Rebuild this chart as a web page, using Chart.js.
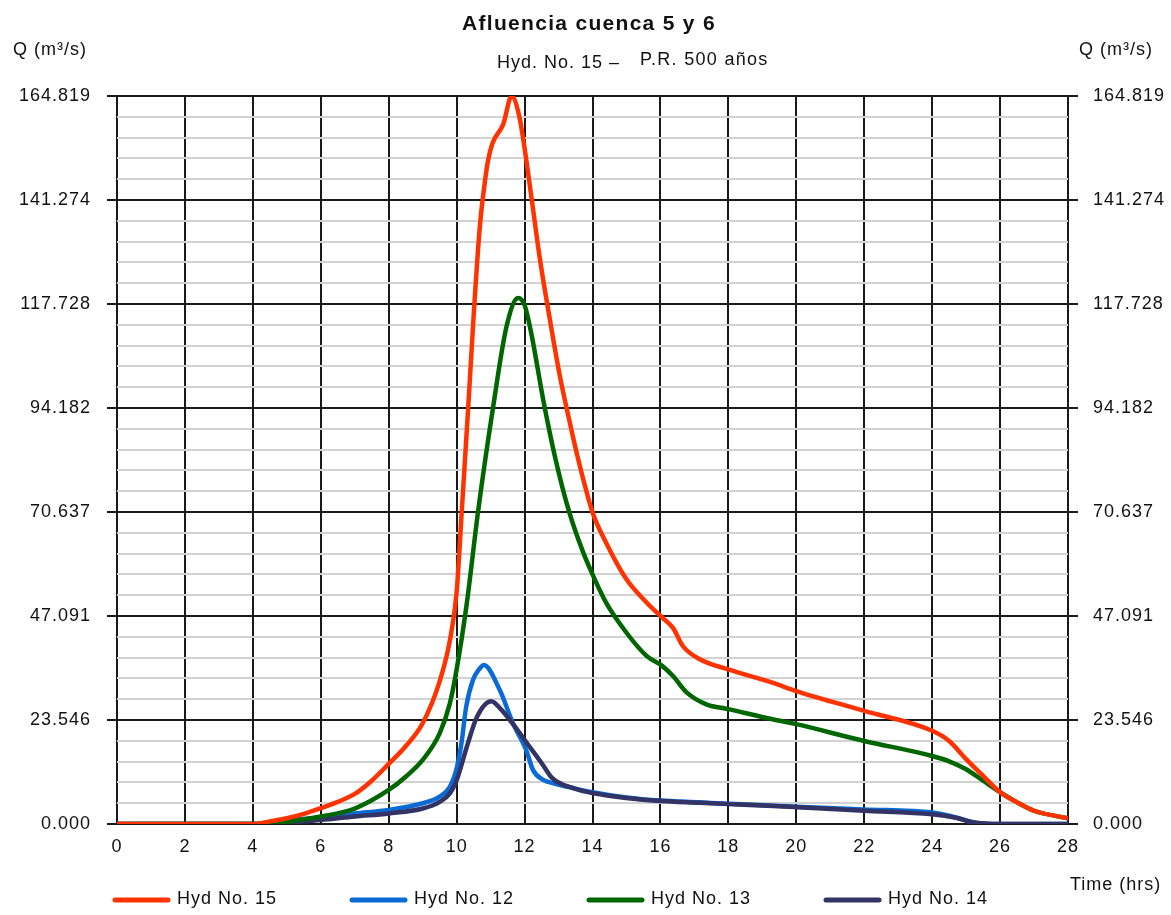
<!DOCTYPE html>
<html>
<head>
<meta charset="utf-8">
<title>Afluencia cuenca 5 y 6</title>
<script src="https://cdn.jsdelivr.net/npm/chart.js@4.4.1/dist/chart.umd.min.js"></script>
<style>
  html, body { margin: 0; padding: 0; background: #fff; }
  #wrap { width: 1171px; height: 915px; }
</style>
</head>
<body>
<div id="wrap"><canvas id="hydChart" width="1171" height="915"></canvas></div>
<script>
// Hidrogramas: tiempo (hrs) y caudal Q (m3/s)
const hyd15Time = [0, 4, 4.5, 5, 5.5, 6, 6.5, 7, 7.5, 8, 8.5, 9, 9.5, 9.8, 10, 10.15, 10.34, 10.5, 10.68, 10.8, 10.92, 11.05, 11.37, 11.62, 11.85, 12.0, 12.2, 12.45, 12.75, 13.05, 13.3, 13.55, 14, 14.4, 15, 15.6, 16, 16.37, 16.66, 17.16, 18, 19.3, 20, 22, 24, 24.5, 25, 25.5, 26, 26.5, 27, 28];
const hyd15Flow = [0, 0, 0.6, 1.3, 2.3, 3.6, 5.0, 6.8, 9.8, 13.6, 17.6, 22.8, 32.3, 41.5, 52.5, 70.7, 94.2, 115, 135, 143.5, 150, 154, 158.4, 164.8, 160, 153, 142, 128, 114, 101, 92, 83.5, 70.6, 63.7, 55.4, 50.1, 47.1, 44.4, 40.3, 37.3, 35.0, 32.0, 30.1, 25.6, 21.1, 18.8, 14.7, 10.9, 7.2, 4.9, 3.0, 1.3];

const hyd12Time = [0, 4, 5, 6, 7, 8, 9, 9.5, 9.8, 10, 10.14, 10.28, 10.48, 10.67, 10.8, 11.26, 11.66, 12.05, 12.25, 12.55, 12.85, 13.4, 14, 15, 16, 17.15, 18, 19.5, 20, 22, 24, 24.5, 25, 25.4, 26, 28];
const hyd12Flow = [0, 0, 0.8, 1.5, 2.4, 3.2, 4.7, 6.2, 8.4, 12.6, 18.2, 26.5, 32.6, 35.1, 36.0, 30.5, 22.8, 16.7, 12.2, 10.0, 9.2, 8.2, 7.2, 6.0, 5.3, 4.9, 4.6, 4.1, 3.9, 3.3, 2.6, 1.9, 0.8, 0.1, 0, 0];

const hyd13Time = [0, 4.5, 5, 6, 7, 8, 8.5, 9, 9.5, 9.8, 10, 10.3, 10.63, 11.07, 11.47, 11.81, 12.0, 12.2, 12.55, 12.9, 13.3, 13.7, 14, 14.4, 15, 15.6, 16.05, 16.37, 16.77, 17.35, 18, 19.3, 20, 22, 24, 24.5, 25, 25.5, 26, 26.5, 27, 28];
const hyd13Flow = [0, 0, 0.5, 1.7, 3.5, 7.7, 10.7, 14.5, 20.5, 27.3, 35, 50, 70.7, 94.2, 112.7, 119.1, 117.5, 111, 96, 83, 71, 62, 56.5, 50.1, 43.3, 38.0, 35.8, 33.5, 29.8, 27.1, 26.0, 23.7, 22.6, 18.8, 15.4, 14.2, 12.4, 9.8, 7.2, 4.9, 3.0, 1.3];

const hyd14Time = [0, 4.5, 5, 6, 7, 8, 9, 9.5, 9.8, 10, 10.3, 10.6, 11.02, 11.3, 11.7, 12.1, 12.5, 12.8, 13.1, 13.4, 14, 15, 16, 17.15, 18, 19.5, 22, 24, 24.7, 25.2, 26, 28];
const hyd14Flow = [0, 0, 0.3, 0.9, 1.7, 2.4, 3.5, 5.0, 6.9, 9.9, 17.5, 24.3, 27.8, 26.0, 22.2, 18.0, 13.8, 10.5, 9.0, 8.2, 7.0, 5.9, 5.2, 4.8, 4.5, 4.0, 3.0, 2.2, 1.4, 0.4, 0, 0];

const seriesNames = ['Hyd No. 15', 'Hyd No. 12', 'Hyd No. 13', 'Hyd No. 14'];
const seriesColors = ['#ff3300', '#0a6ad6', '#006600', '#333366'];

const xTickValues = [0, 2, 4, 6, 8, 10, 12, 14, 16, 18, 20, 22, 24, 26, 28];
const xTickLabels = ['0', '2', '4', '6', '8', '10', '12', '14', '16', '18', '20', '22', '24', '26', '28'];
const yMax = 164.819;
const yTickLabels = ['0.000', '23.546', '47.091', '70.637', '94.182', '117.728', '141.274', '164.819'];
const yMinorPerMajor = 5;

const FONT = '"Liberation Sans", Arial, Helvetica, sans-serif';

function toPoints(times, flows) {
    return times.map((t, i) => ({ x: t, y: flows[i] }));
}

// ticks del eje Q: mayores con etiqueta, menores en gris
const yTickCount = (yTickLabels.length - 1) * yMinorPerMajor;
const yTickValues = [];
for (let i = 0; i <= yTickCount; i++) yTickValues.push(yMax * i / yTickCount);

const isMajor = ctx => ctx.index % yMinorPerMajor === 0;

function yAxis(position, width, padding, onChart) {
    return {
        type: 'linear',
        position: position,
        min: 0,
        max: yMax,
        afterBuildTicks: s => { s.ticks = yTickValues.map(v => ({ value: v })); },
        afterFit: s => { s.width = width; },
        border: { display: false },
        grid: {
            drawOnChartArea: onChart,
            color: ctx => isMajor(ctx) ? '#1a1a1a' : '#d2d2d2',
            lineWidth: 2,
            tickColor: ctx => isMajor(ctx) ? '#1a1a1a' : 'rgba(0,0,0,0)',
            tickLength: 10,
            tickWidth: 2
        },
        ticks: {
            autoSkip: false,
            padding: padding,
            color: '#111',
            font: { family: FONT, size: 18 },
            callback: (v, i) => i % yMinorPerMajor === 0 ? yTickLabels[i / yMinorPerMajor] : ''
        }
    };
}

// textos: título, subtítulo, ejes y leyenda
const textPlugin = {
    id: 'hydTexts',
    beforeDraw(chart) {
        chart.ctx.letterSpacing = '1px';
    },
    afterDraw(chart) {
        const ctx = chart.ctx;
        ctx.save();
        ctx.fillStyle = '#111';
        ctx.textAlign = 'left';
        ctx.textBaseline = 'alphabetic';

        ctx.font = 'bold 21px ' + FONT;
        ctx.letterSpacing = '1.3px';
        const title = 'Afluencia cuenca 5 y 6';
        ctx.fillText(title, 589 - ctx.measureText(title).width / 2, 30);

        ctx.font = '18px ' + FONT;
        ctx.letterSpacing = '1px';
        ctx.fillText('Hyd. No. 15 –', 497, 68);
        ctx.letterSpacing = '1.3px';
        ctx.fillText('P.R. 500 años', 640, 65);

        ctx.letterSpacing = '1px';
        ctx.fillText('Q (m³/s)', 13, 55);
        ctx.fillText('Q (m³/s)', 1079, 55);
        ctx.fillText('Time (hrs)', 1070, 890);

        // leyenda
        const legendStart = 115, legendStep = 237, lineLen = 53;
        ctx.textBaseline = 'middle';
        seriesNames.forEach((name, i) => {
            const x0 = legendStart + i * legendStep;
            ctx.strokeStyle = seriesColors[i];
            ctx.lineWidth = 5;
            ctx.lineCap = 'round';
            ctx.beginPath();
            ctx.moveTo(x0, 900);
            ctx.lineTo(x0 + lineLen, 900);
            ctx.stroke();
            ctx.fillStyle = '#111';
            ctx.fillText(name, x0 + 62, 899);
        });
        ctx.restore();
    }
};

const allSeries = [
    toPoints(hyd15Time, hyd15Flow),
    toPoints(hyd12Time, hyd12Flow),
    toPoints(hyd13Time, hyd13Flow),
    toPoints(hyd14Time, hyd14Flow)
];
const drawOrder = [0, 3, 1, 2]; // rojo arriba, luego verde, azul oscuro, azul

const ctx = document.getElementById('hydChart').getContext('2d');
const chart = new Chart(ctx, {
    type: 'line',
    data: {
        datasets: allSeries.map((pts, i) => ({
            label: seriesNames[i],
            data: pts,
            borderColor: seriesColors[i],
            backgroundColor: seriesColors[i],
            borderWidth: 4.5,
            pointRadius: 0,
            fill: false,
            cubicInterpolationMode: 'monotone',
            borderCapStyle: 'round',
            borderJoinStyle: 'round',
            order: drawOrder[i]
        }))
    },
    options: {
        responsive: false,
        animation: false,
        devicePixelRatio: 1,
        layout: { padding: { top: 96, left: 0, right: 0, bottom: 0 } },
        plugins: {
            legend: { display: false },
            title: { display: false },
            tooltip: { enabled: false }
        },
        scales: {
            x: {
                type: 'linear',
                min: 0,
                max: 28,
                afterBuildTicks: s => { s.ticks = xTickValues.map(v => ({ value: v })); },
                afterFit: s => { s.height = 91; },
                border: { display: false },
                grid: { color: '#1a1a1a', lineWidth: 2, drawTicks: false },
                ticks: {
                    autoSkip: false,
                    maxRotation: 0,
                    padding: 12,
                    color: '#111',
                    font: { family: FONT, size: 18 },
                    callback: (v, i) => xTickLabels[i]
                }
            },
            y: yAxis('left', 117, 16, true),
            y2: yAxis('right', 103, 15, false)
        }
    },
    plugins: [textPlugin]
});
</script>
</body>
</html>
